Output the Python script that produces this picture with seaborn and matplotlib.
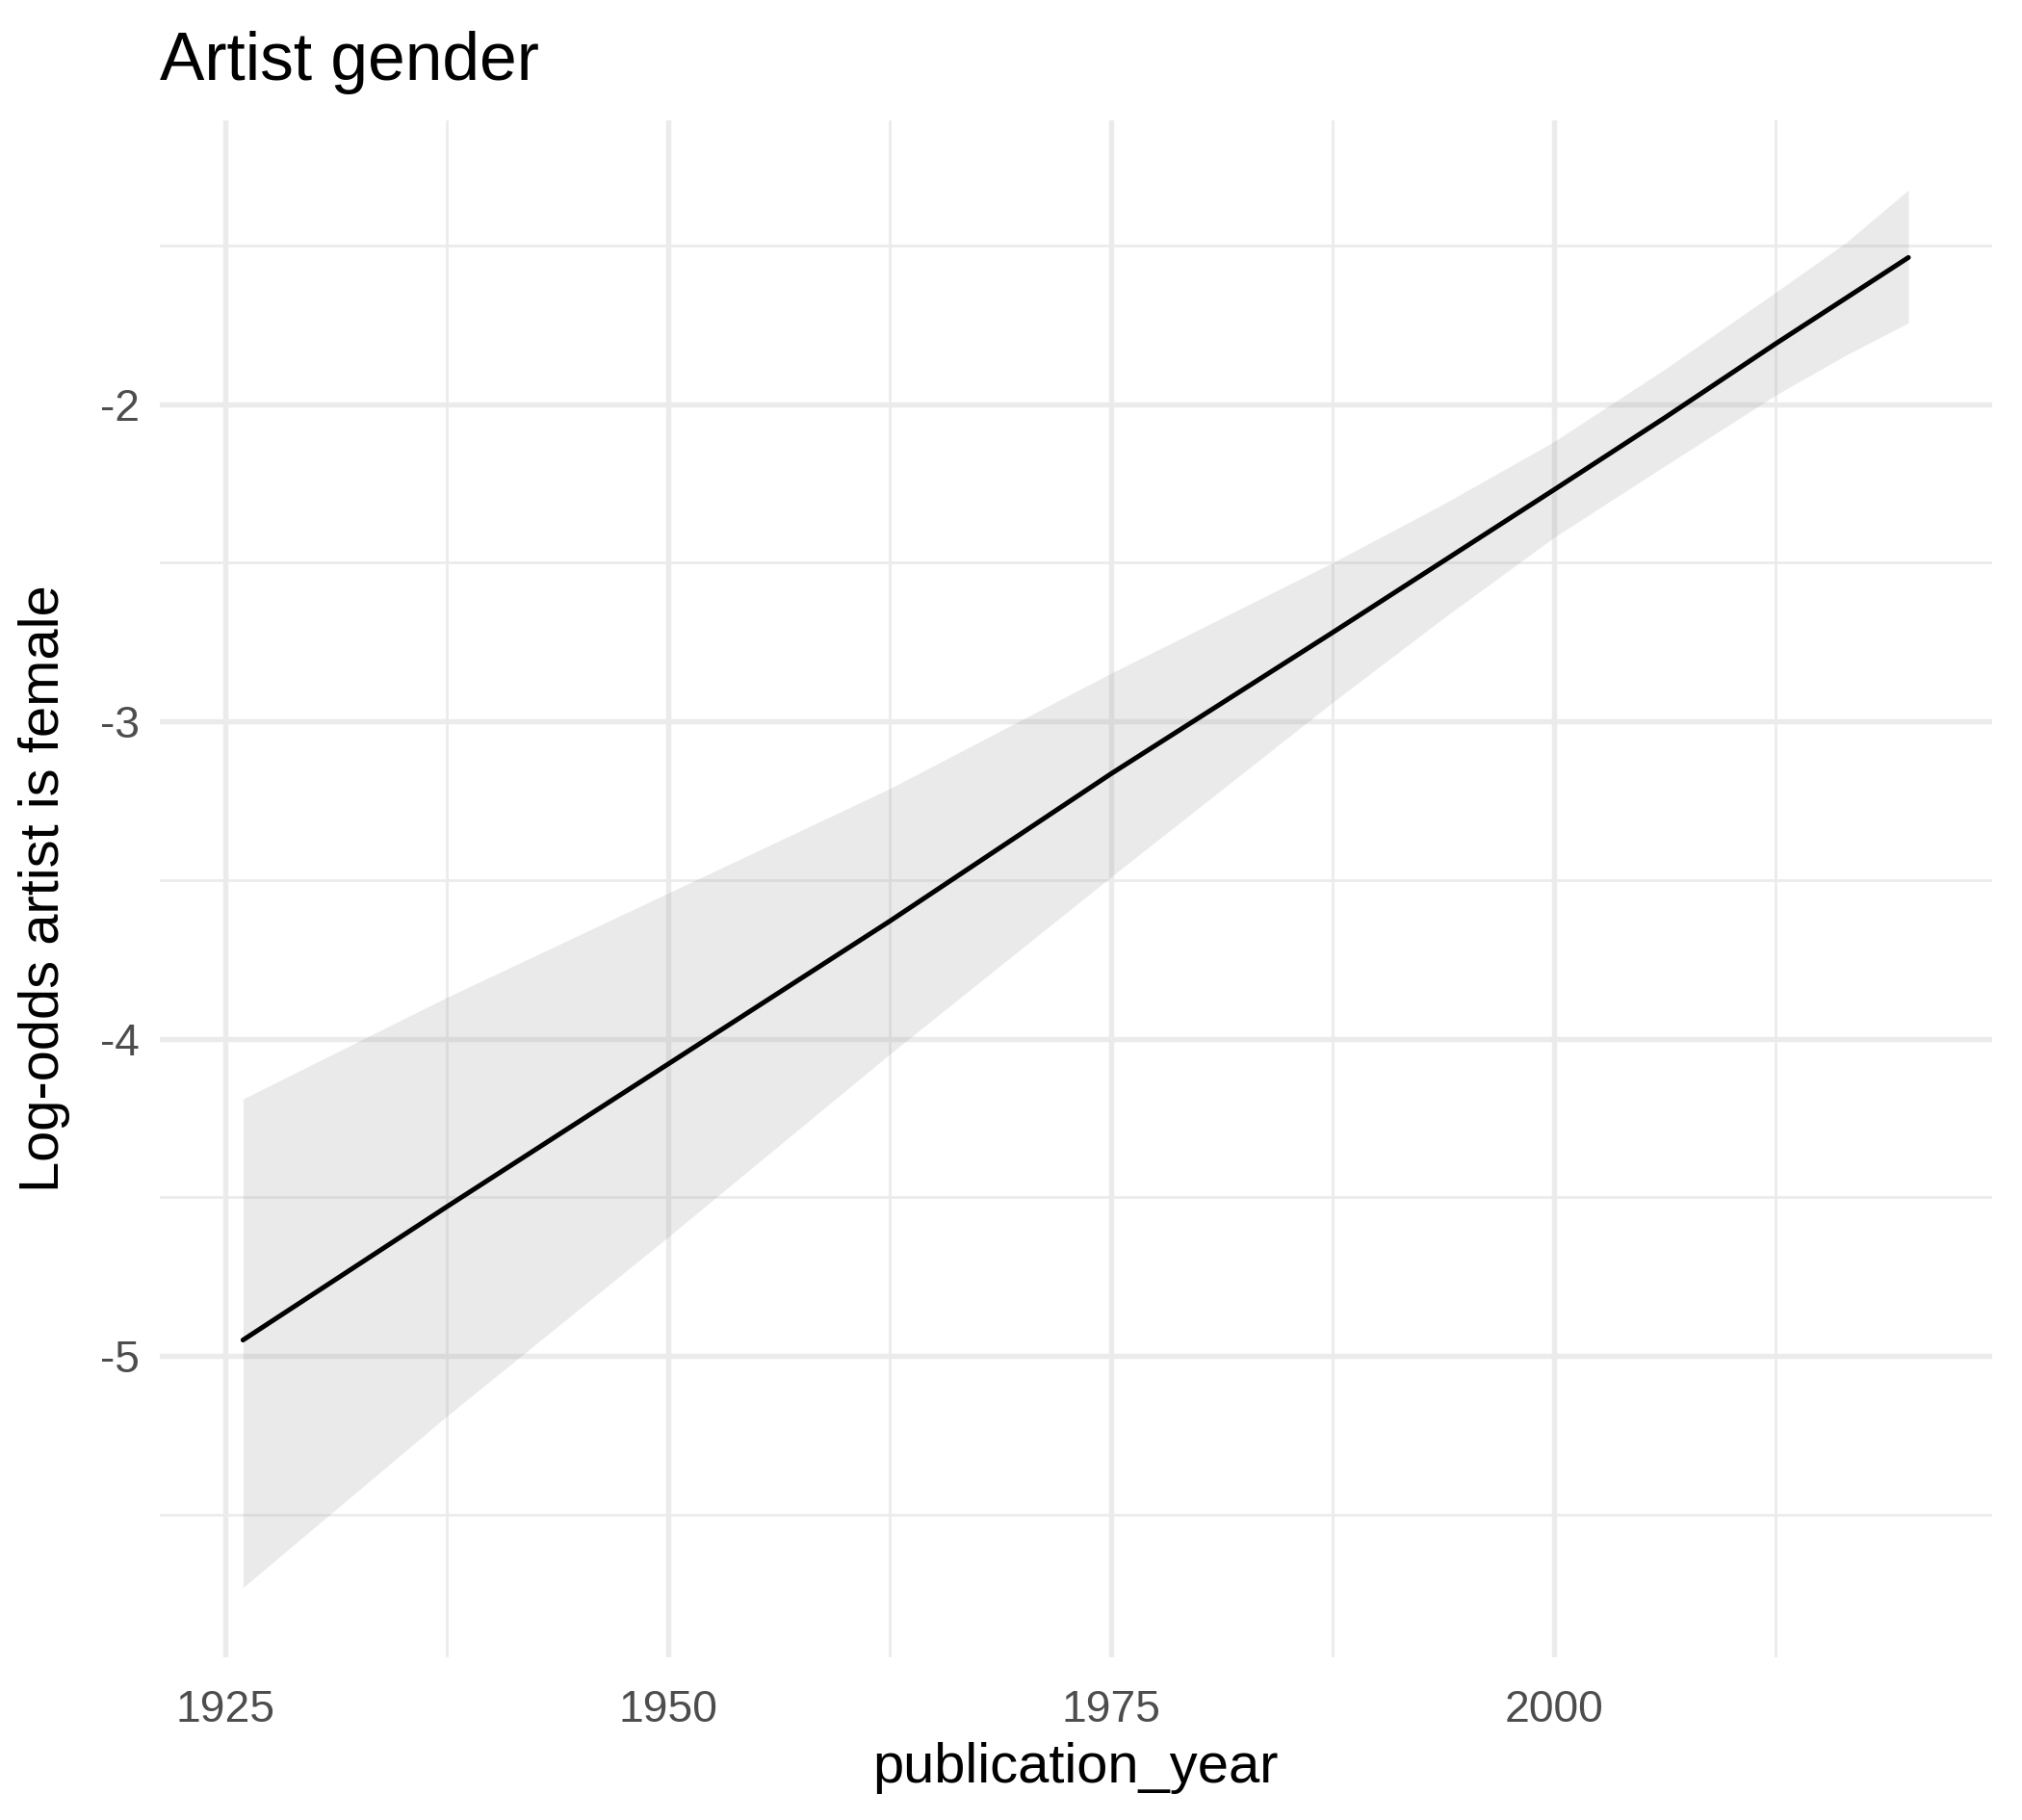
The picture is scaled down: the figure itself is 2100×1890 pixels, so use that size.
import pandas as pd
import seaborn as sns
import matplotlib
matplotlib.use('Agg')
import matplotlib.pyplot as plt

# fitted log-odds with confidence band
years = [1926, 1937.5, 1950, 1962.5, 1975, 1987.5, 1993.75, 2000, 2006.25, 2012.5, 2016.5, 2020]
fit = [-4.95, -4.53, -4.08, -3.63, -3.165, -2.72, -2.495, -2.27, -2.043, -1.81, -1.665, -1.538]
upper = [-4.19, -3.87, -3.541, -3.212, -2.848, -2.50, -2.315, -2.118, -1.89, -1.648, -1.49, -1.325]
lower = [-5.73, -5.19, -4.625, -4.049, -3.49, -2.94, -2.675, -2.42, -2.195, -1.972, -1.845, -1.744]

x_major = [1925, 1950, 1975, 2000]
x_minor = [1937.5, 1962.5, 1987.5, 2012.5]
y_major = [-5, -4, -3, -2]
y_minor = [-5.5, -4.5, -3.5, -2.5, -1.5]

df = pd.DataFrame({'publication_year': years, 'fit': fit, 'lower': lower, 'upper': upper})

sns.set_style('white')
plt.rcParams['font.family'] = ['Liberation Sans', 'DejaVu Sans']
plt.rcParams['axes.unicode_minus'] = False

fig = plt.figure(figsize=(7, 6.3), dpi=300)
ax = fig.add_axes([0.079, 0.0894, 0.906, 0.8446])

ax.fill_between(df['publication_year'], df['lower'], df['upper'],
                color='#999999', alpha=0.2, linewidth=0, zorder=2)
sns.lineplot(data=df, x='publication_year', y='fit', color='black',
             linewidth=1.2, ax=ax, zorder=3)

ax.set_xlim(1921.3, 2024.7)
ax.set_ylim(-5.95, -1.105)
ax.set_xticks(x_major)
ax.set_xticks(x_minor, minor=True)
ax.set_yticks(y_major)
ax.set_yticks(y_minor, minor=True)
ax.set_xticklabels([str(v) for v in x_major])
ax.set_yticklabels([str(v) for v in y_major])

ax.grid(which='major', color='#EBEBEB', linewidth=1.3)
ax.grid(which='minor', color='#EBEBEB', linewidth=0.65)
ax.set_axisbelow(True)
for s in ax.spines.values():
    s.set_visible(False)
ax.tick_params(which='both', length=0)
ax.tick_params(axis='x', pad=8, labelsize=11.1, labelcolor='#4D4D4D')
ax.tick_params(axis='y', pad=5, labelsize=11.1, labelcolor='#4D4D4D')

ax.set_xlabel('publication_year', fontsize=13.9, color='black')
ax.xaxis.set_label_coords(0.5, -0.055)
ax.set_ylabel('Log-odds artist is female', fontsize=13.9, color='black')
ax.yaxis.set_label_coords(-0.049, 0.5)

fig.text(0.079, 0.956, 'Artist gender', fontsize=16.7, color='black',
         ha='left', va='baseline')

fig.savefig('out.png', dpi=300)
